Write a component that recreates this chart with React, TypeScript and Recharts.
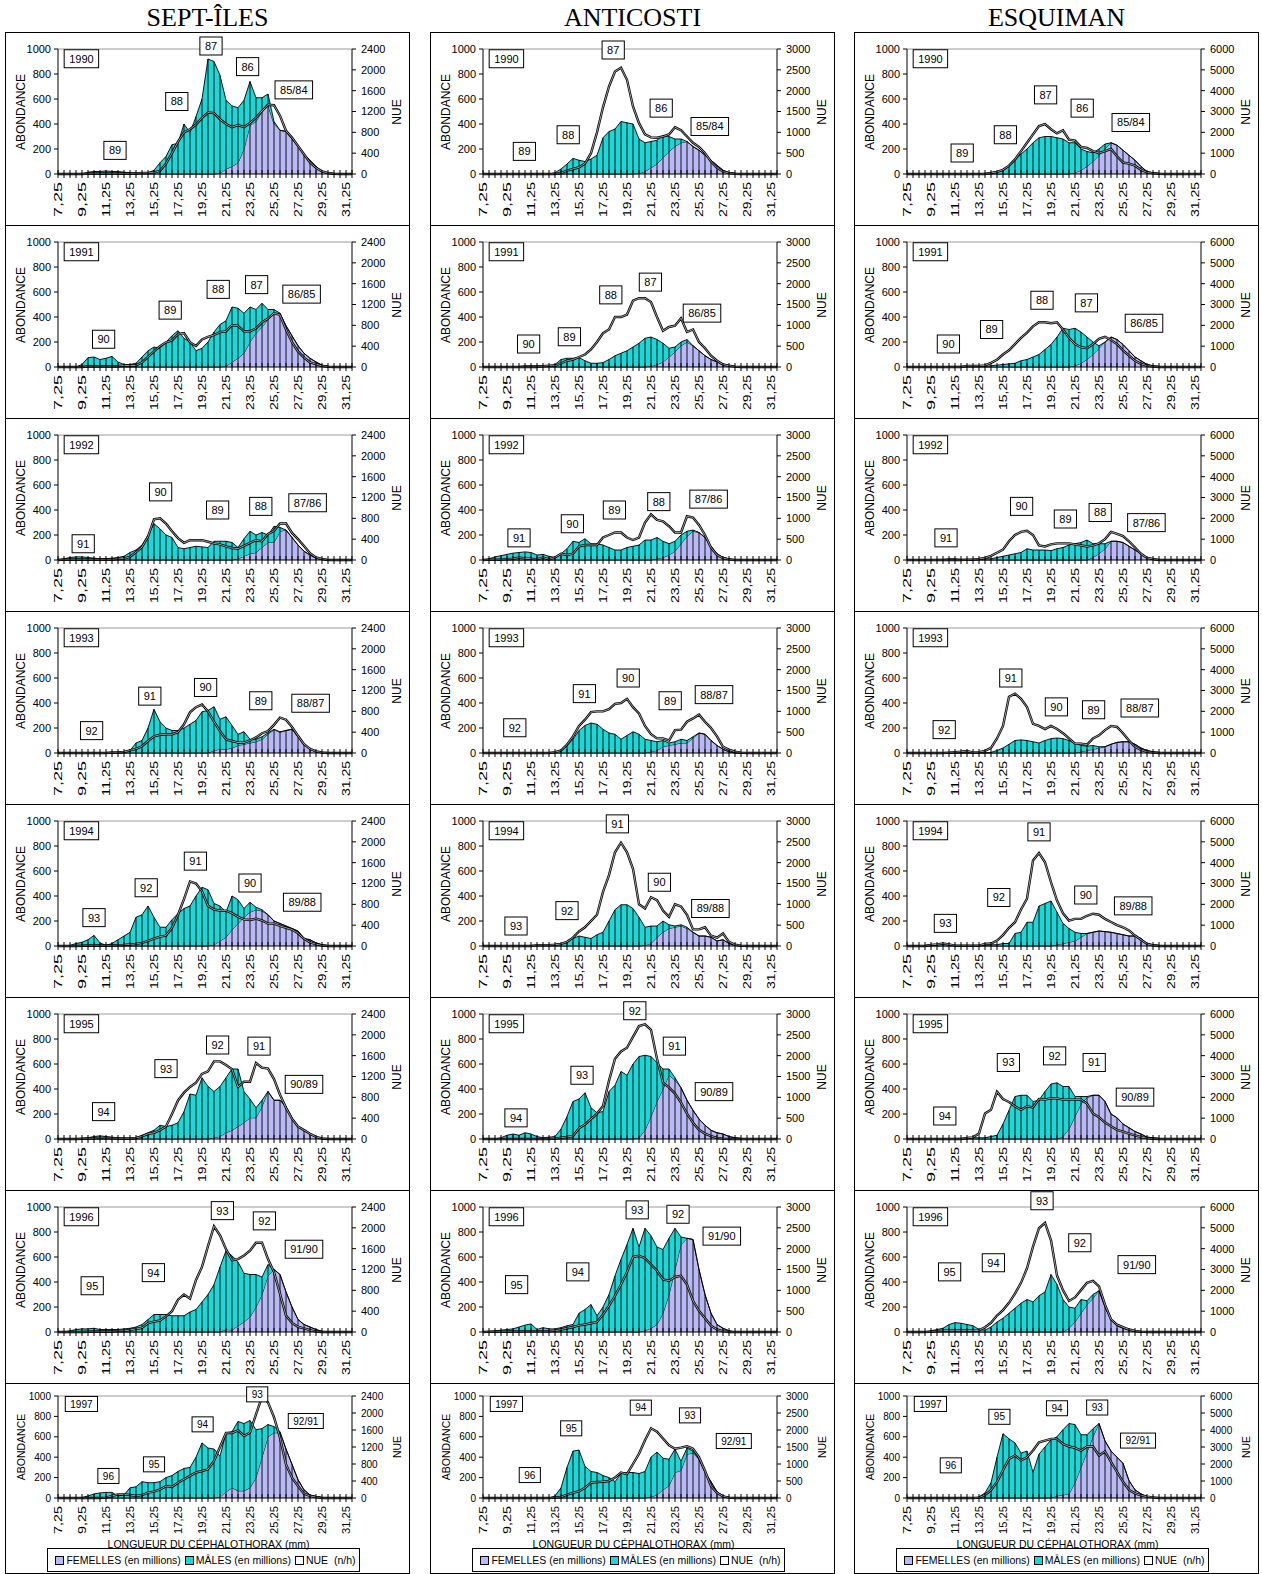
import React from "react";
import {
  ComposedChart,
  Area,
  Line,
  XAxis,
  YAxis,
  ReferenceLine,
  ReferenceDot,
  ErrorBar,
} from "recharts";

const FONT = "'Liberation Sans', Arial, Helvetica, sans-serif";
const SERIF = "'Liberation Serif', 'Times New Roman', serif";
const PURPLE = "#b9b9f5";
const CYAN = "#1ed6d6";

// carapace length classes (mm)
const lengths = [
  "7,25", "7,75", "8,25", "8,75", "9,25", "9,75", "10,25", "10,75", "11,25", "11,75",
  "12,25", "12,75", "13,25", "13,75", "14,25", "14,75", "15,25", "15,75", "16,25", "16,75",
  "17,25", "17,75", "18,25", "18,75", "19,25", "19,75", "20,25", "20,75", "21,25", "21,75",
  "22,25", "22,75", "23,25", "23,75", "24,25", "24,75", "25,25", "25,75", "26,25", "26,75",
  "27,25", "27,75", "28,25", "28,75", "29,25", "29,75", "30,25", "30,75", "31,25", "31,75",
];
const tickLabels = ["7,25", "9,25", "11,25", "13,25", "15,25", "17,25", "19,25", "21,25", "23,25", "25,25", "27,25", "29,25", "31,25"];
const abondTicks = [0, 200, 400, 600, 800, 1000];
const siNueTicks = [0, 400, 800, 1200, 1600, 2000, 2400];
const anNueTicks = [0, 500, 1000, 1500, 2000, 2500, 3000];
const esNueTicks = [0, 1000, 2000, 3000, 4000, 5000, 6000];

// ---------- SEPT-ILES ----------
const siF90 = [0,0,0,0,0,0,0,0,0,0, 0,0,0,0,0,0,0,0,0,0, 0,0,0,0,0,0,0,5,40,60, 90,200,390,420,500,550,400,350,340,280, 220,160,110,60,20,5,0,0,0,0];
const siM90 = [0,0,0,0,0,15,20,20,25,20, 20,15,10,5,5,10,30,90,140,235, 245,400,330,460,600,920,900,785,550,485, 440,390,350,190,110,90,20,0,0,0, 0,0,0,0,0,0,0,0,0,0];
const siN90 = [0,0,0,0,0,10,10,10,10,10, 10,10,10,10,20,20,30,60,200,400, 620,800,860,950,1080,1180,1170,1050,960,900, 940,900,980,1080,1210,1330,1320,1120,830,700, 540,380,220,120,50,20,5,0,0,0];

const siF91 = [0,0,0,0,0,0,0,0,0,0, 0,0,0,0,0,0,0,0,0,0, 0,0,0,0,0,0,0,0,5,40, 70,110,200,270,320,380,430,430,330,250, 170,110,70,40,15,5,0,0,0,0];
const siM91 = [0,0,0,0,20,75,80,60,70,85, 40,20,20,30,80,130,160,150,200,250, 290,230,200,130,150,200,280,340,365,440, 400,320,280,190,190,80,30,0,0,0, 0,0,0,0,0,0,0,0,0,0];
const siN91 = [0,0,0,0,0,15,15,15,15,15, 15,30,30,30,90,195,300,400,475,510, 630,650,475,405,530,580,615,670,685,805, 790,685,685,740,860,930,1035,1000,720,475, 300,180,90,55,20,5,0,0,0,0];

const siF92 = [0,0,0,0,0,0,0,0,0,0, 0,0,0,0,0,0,0,0,0,0, 0,0,0,0,0,0,0,0,0,0, 10,30,50,60,100,140,140,230,240,180, 120,70,40,15,5,0,0,0,0,0];
const siM92 = [0,10,20,25,25,20,15,10,10,15, 20,30,60,80,120,200,290,250,200,180, 100,90,100,110,105,100,150,150,150,140, 90,140,180,140,120,60,130,30,0,0, 0,0,0,0,0,0,0,0,0,0];
const siN92 = [0,10,10,10,10,10,10,10,10,10, 20,30,60,150,250,450,780,800,700,550, 420,330,380,380,380,350,320,300,260,230, 220,270,330,380,360,500,560,700,700,520, 400,270,130,50,20,0,0,0,0,0];

const siF93 = [0,0,0,0,0,0,0,0,0,0, 0,0,0,0,0,0,0,0,0,0, 0,0,0,0,0,0,20,30,30,40, 60,70,80,90,110,150,185,165,180,190, 130,70,30,10,3,0,0,0,0,0];
const siM93 = [0,0,0,0,0,0,0,0,0,0, 5,10,20,80,100,200,350,250,200,180, 180,200,230,260,330,340,350,240,260,180, 90,100,30,20,20,10,5,5,0,0, 0,0,0,0,0,0,0,0,0,0];
const siN93 = [0,0,0,0,0,0,0,0,0,10, 10,20,50,80,130,230,320,350,360,360, 400,550,780,880,930,800,600,420,260,230, 200,200,240,300,380,420,540,680,640,500, 330,170,80,30,10,0,0,0,0,0];

const siF94 = [0,0,0,0,0,0,0,0,0,0, 0,0,0,0,0,0,0,0,0,0, 0,0,0,0,0,0,10,40,70,130, 180,230,270,290,280,250,200,180,160,140, 120,60,50,25,10,3,0,0,0,0];
const siM94 = [0,0,5,20,30,50,85,25,5,20, 50,80,110,230,250,320,230,150,150,210, 260,300,320,400,470,450,330,280,200,270, 190,70,80,20,10,0,0,0,0,0, 0,0,0,0,0,0,0,0,0,0];
const siN94 = [0,0,0,0,5,10,10,10,10,10, 15,20,30,40,60,100,140,180,200,350, 600,900,1240,1200,1050,770,700,680,680,630, 560,510,500,525,490,430,430,385,350,315, 245,140,70,35,10,0,0,0,0,0];

const siF95 = [0,0,0,0,0,0,0,0,0,0, 0,0,0,0,0,0,0,0,0,0, 0,0,0,0,0,0,10,20,50,70, 100,130,170,170,260,380,310,310,260,170, 100,70,40,15,5,0,0,0,0,0];
const siM95 = [0,0,0,0,5,10,20,25,20,15, 10,5,5,10,30,50,70,110,100,110, 130,220,360,350,490,420,370,400,440,490, 460,250,150,80,50,0,0,0,0,0, 0,0,0,0,0,0,0,0,0,0];
const siN95 = [0,0,0,0,5,10,15,20,20,15, 10,10,10,20,50,100,120,170,240,480, 740,890,1000,1080,1250,1300,1490,1490,1420,1340, 1000,1100,1100,1460,1370,1350,1150,850,600,390, 240,170,100,40,10,0,0,0,0,0];

const siF96 = [0,0,0,0,0,0,0,0,0,0, 0,0,0,0,0,0,0,0,0,0, 0,0,0,0,0,0,0,0,20,15, 50,80,120,200,300,450,500,460,320,200, 100,60,40,20,5,0,0,0,0,0];
const siM96 = [0,0,10,20,25,25,30,20,20,20, 20,25,30,40,60,100,140,140,140,130, 130,130,160,180,240,300,380,520,630,595, 510,390,340,260,140,90,0,0,0,0, 0,0,0,0,0,0,0,0,0,0];
const siN96 = [0,0,0,0,0,5,10,10,10,10, 20,20,40,60,80,170,200,220,300,400, 620,720,640,1000,1250,1650,2030,1855,1590,1380, 1400,1470,1560,1715,1715,1400,1150,735,315,175, 100,70,35,10,0,0,0,0,0,0];

const siF97 = [0,0,0,0,0,0,0,0,0,0, 0,0,0,0,0,0,0,0,0,0, 0,0,0,0,0,0,0,10,60,100, 70,70,100,200,400,600,640,640,480,330, 180,80,30,15,5,0,0,0,0,0];
const siM97 = [0,0,0,0,5,20,40,50,55,55, 20,30,100,110,160,150,150,160,200,220, 260,290,300,400,540,490,480,400,580,550, 680,660,660,470,280,120,60,10,0,0, 0,0,0,0,0,0,0,0,0,0];
const siN97 = [0,0,0,0,0,0,0,0,10,50, 85,85,70,50,70,125,150,200,280,260, 360,440,520,600,635,675,870,1200,1530,1530, 1590,1460,1540,1970,2380,2250,1900,1420,790,480, 280,100,50,20,0,0,0,0,0,0];

// ---------- ANTICOSTI ----------
const anF90 = [0,0,0,0,0,0,0,0,0,0, 0,0,0,0,0,0,0,0,0,0, 0,0,0,0,0,0,5,20,50,80, 130,180,220,250,260,220,190,150,110,70, 30,10,5,0,0,0,0,0,0,0];
const anM90 = [0,0,0,0,0,0,0,0,0,0, 0,0,10,40,80,125,110,100,120,150, 290,340,360,420,410,400,275,230,210,190, 180,120,60,30,0,0,0,0,0,0, 0,0,0,0,0,0,0,0,0,0];
const anN90 = [0,0,0,0,0,0,0,0,0,0, 0,0,0,20,80,120,160,250,500,1000, 1600,2100,2460,2550,2260,1620,1220,950,880,870, 900,950,1120,1050,900,750,650,500,300,150, 60,20,5,0,0,0,0,0,0,0];

const anF91 = [0,0,0,0,0,0,0,0,0,0, 0,0,0,0,0,0,0,0,0,0, 0,0,0,0,0,0,0,0,5,20, 40,80,120,170,200,170,130,90,60,40, 20,10,5,0,0,0,0,0,0,0];
const anM91 = [0,0,0,0,0,0,5,10,10,10, 10,10,20,60,70,70,75,50,30,30, 35,60,90,110,130,160,190,230,235,200, 150,70,40,30,20,0,0,0,0,0, 0,0,0,0,0,0,0,0,0,0];
const anN91 = [0,0,0,0,0,0,0,0,0,0, 20,30,30,90,150,180,240,300,420,600, 810,900,1200,1200,1260,1590,1650,1650,1560,1200, 870,960,990,1170,840,900,600,450,270,150, 60,30,10,0,0,0,0,0,0,0];

const anF92 = [0,0,0,0,0,0,0,0,0,0, 0,0,0,0,0,0,0,0,0,0, 0,0,0,0,0,0,0,0,0,10, 20,40,70,130,190,230,220,180,110,50, 20,10,0,0,0,0,0,0,0,0];
const anM92 = [0,10,25,35,45,55,60,65,60,40, 45,30,20,50,90,150,140,170,130,130, 120,100,80,80,100,110,120,160,160,170, 130,90,80,70,40,10,0,0,0,0, 0,0,0,0,0,0,0,0,0,0];
const anN92 = [0,10,10,10,20,30,60,40,30,15, 60,15,60,150,120,150,330,360,360,360, 540,600,660,660,540,480,540,900,1095,960, 930,810,660,660,1050,1020,840,600,300,120, 45,15,0,0,0,0,0,0,0,0];

const anF93 = [0,0,0,0,0,0,0,0,0,0, 0,0,0,0,0,0,0,0,0,0, 0,0,0,0,0,0,0,0,10,20, 50,60,70,80,80,120,160,150,100,60, 30,10,0,0,0,0,0,0,0,0];
const anM93 = [0,0,0,0,0,0,0,0,0,0, 0,0,5,20,60,110,180,220,240,230, 190,160,150,110,140,170,150,110,90,70, 50,20,20,30,20,10,0,0,0,0, 0,0,0,0,0,0,0,0,0,0];
const anN93 = [0,0,0,0,0,0,0,0,0,0, 0,0,20,60,200,400,650,800,980,1000, 1000,1050,1180,1200,1300,1100,950,650,450,350, 350,300,550,560,750,830,920,750,600,400, 150,80,30,10,0,0,0,0,0,0];

const anF94 = [0,0,0,0,0,0,0,0,0,0, 0,0,0,0,0,0,0,0,0,0, 0,0,0,0,0,0,0,5,20,70, 110,140,150,160,140,110,80,80,70,40, 50,20,5,0,0,0,0,0,0,0];
const anM94 = [0,0,0,0,0,0,0,0,0,5, 5,5,10,15,30,60,80,70,60,90, 110,200,290,330,330,300,230,145,140,90, 90,30,10,10,10,0,0,0,0,0, 0,0,0,0,0,0,0,0,0,0];
const anN94 = [0,0,0,0,0,0,0,0,0,20, 20,20,30,50,100,200,350,450,600,750, 1300,1700,2250,2480,2250,1850,1000,900,1170,1100, 850,700,1000,950,750,400,400,450,250,200, 300,100,30,10,0,0,0,0,0,0];

const anF95 = [0,0,0,0,0,0,0,0,0,0, 0,0,0,0,0,0,0,0,0,0, 0,0,0,0,0,0,10,70,180,300, 400,510,470,410,310,230,160,110,70,50, 40,20,10,5,0,0,0,0,0,0];
const anM95 = [0,0,0,10,30,40,30,50,40,20, 10,15,20,80,180,300,320,370,250,210, 220,380,430,540,510,600,650,600,480,310, 160,50,20,0,0,0,0,0,0,0, 0,0,0,0,0,0,0,0,0,0];
const anN95 = [0,0,0,0,0,0,0,0,0,0, 0,0,10,30,50,70,260,350,480,610, 790,1400,1925,2100,2190,2450,2710,2750,2620,1925, 1350,1240,1090,875,610,390,220,130,70,25, 10,0,0,0,0,0,0,0,0,0];

const anF96 = [0,0,0,0,0,0,0,0,0,0, 0,0,0,0,0,0,0,0,0,0, 0,0,0,0,0,0,0,10,30,60, 150,300,500,700,750,740,500,300,150,60, 30,10,0,0,0,0,0,0,0,0];
const anM96 = [0,5,10,15,20,25,40,55,65,20, 35,25,25,35,50,60,150,180,220,130, 200,300,450,580,700,830,680,820,740,620, 510,450,330,60,0,0,0,0,0,0, 0,0,0,0,0,0,0,0,0,0];
const anN96 = [0,10,10,10,10,15,15,20,20,20, 20,20,30,60,90,120,160,180,210,240, 420,630,870,1140,1440,1800,1830,1770,1620,1470, 1260,1230,1320,1350,1140,750,510,330,150,60, 20,0,0,0,0,0,0,0,0,0];

const anF97 = [0,0,0,0,0,0,0,0,0,0, 0,0,0,0,0,0,0,0,0,0, 0,0,0,0,0,0,0,0,10,30, 80,120,250,270,430,440,380,250,160,60, 20,5,0,0,0,0,0,0,0,0];
const anM97 = [0,0,0,0,0,0,0,0,0,0, 0,0,20,100,300,460,470,310,260,250, 220,200,160,240,250,250,240,260,390,420, 310,260,230,90,60,20,0,0,0,0, 0,0,0,0,0,0,0,0,0,0];
const anN97 = [0,0,0,0,0,0,0,0,0,0, 0,0,10,30,100,150,200,300,450,470, 480,500,600,750,700,1000,1300,1700,2050,1950, 1750,1550,1450,1480,1520,1450,1200,800,350,150, 50,10,0,0,0,0,0,0,0,0];

// ---------- ESQUIMAN ----------
const esF90 = [0,0,0,0,0,0,0,0,0,0, 0,0,0,0,0,0,0,0,0,0, 0,0,0,0,0,0,0,0,10,30, 60,100,150,200,250,230,190,150,110,60, 20,10,5,0,0,0,0,0,0,0];
const esM90 = [0,0,0,0,0,0,0,0,0,0, 0,0,0,5,10,20,30,60,110,160, 200,250,290,300,300,290,280,250,240,170, 120,70,50,40,0,0,0,0,0,0, 0,0,0,0,0,0,0,0,0,0];
const esN90 = [0,0,0,0,0,0,0,0,0,0, 0,0,0,0,50,100,200,400,700,1100, 1500,1900,2300,2400,2150,1950,2100,1650,1600,1300, 1250,1100,1000,1100,1200,850,550,500,400,200, 80,30,10,0,0,0,0,0,0,0];

const esF91 = [0,0,0,0,0,0,0,0,0,0, 0,0,0,0,0,0,0,0,0,0, 0,0,0,0,0,0,0,0,10,30, 60,100,150,200,240,220,180,130,80,50, 20,10,5,0,0,0,0,0,0,0];
const esM91 = [0,0,0,0,0,0,0,5,5,5, 5,5,5,5,10,15,20,25,30,50, 60,80,100,140,180,240,310,300,300,250, 180,100,20,0,0,0,0,0,0,0, 0,0,0,0,0,0,0,0,0,0];
const esN91 = [0,0,0,0,0,0,0,0,0,0, 50,50,50,80,200,350,600,800,1100,1400, 1650,1950,2150,2150,2100,2150,1800,1400,1100,950, 900,1100,1350,1450,1300,1100,800,550,300,150, 60,20,0,0,0,0,0,0,0,0];

const esF92 = [0,0,0,0,0,0,0,0,0,0, 0,0,0,0,0,0,0,0,0,0, 0,0,0,0,0,0,0,0,0,0, 0,20,50,90,150,150,140,110,80,50, 20,5,0,0,0,0,0,0,0,0];
const esM92 = [0,0,0,0,0,5,5,10,10,5, 5,5,5,10,10,20,30,40,50,60, 90,80,80,80,75,90,100,120,130,140, 160,110,80,40,0,0,0,0,0,0, 0,0,0,0,0,0,0,0,0,0];
const esN92 = [0,0,0,0,0,0,0,0,0,0, 20,20,50,100,200,350,500,900,1200,1350, 1400,1200,700,650,750,800,800,800,750,700, 650,700,800,1000,1350,1250,1150,900,600,300, 100,50,0,0,0,0,0,0,0,0];

const esF93 = [0,0,0,0,0,0,0,0,0,0, 0,0,0,0,0,0,0,0,0,0, 0,0,0,0,0,0,0,0,0,10, 20,30,40,50,70,85,90,90,70,40, 20,10,5,0,0,0,0,0,0,0];
const esM93 = [0,0,0,0,0,0,0,0,0,0, 0,0,0,0,5,20,40,70,100,105, 100,90,80,100,115,120,115,100,80,50, 35,30,10,0,0,0,0,0,0,0, 0,0,0,0,0,0,0,0,0,0];
const esN93 = [0,0,0,0,0,0,0,20,40,60, 100,20,40,100,250,700,1300,2700,2850,2600, 2200,1400,1300,1150,1300,1150,950,700,450,450, 400,700,850,1100,1300,1250,950,600,300,150, 60,20,0,0,0,0,0,0,0,0];

const esF94 = [0,0,0,0,0,0,0,0,0,0, 0,0,0,0,0,0,0,0,0,0, 0,0,0,0,0,10,20,30,40,70, 100,110,120,115,110,100,90,80,80,60, 20,10,5,0,0,0,0,0,0,0];
const esM94 = [0,0,0,5,10,10,15,10,5,5, 5,5,5,5,10,10,20,20,100,110, 190,190,320,340,360,260,160,110,70,30, 0,0,0,0,0,0,0,0,0,0, 0,0,0,0,0,0,0,0,0,0];
const esN94 = [0,0,0,0,50,80,120,80,20,20, 20,20,20,100,120,260,525,875,1140,1750, 2270,4100,4460,4020,3060,2180,1570,1220,1300,1300, 1450,1550,1500,1300,1150,1000,900,750,500,300, 100,30,0,0,0,0,0,0,0,0];

const esF95 = [0,0,0,0,0,0,0,0,0,0, 0,0,0,0,0,0,0,0,0,0, 0,0,0,0,0,0,20,80,180,280, 330,350,350,300,200,170,120,90,60,40, 15,10,5,0,0,0,0,0,0,0];
const esM95 = [0,0,0,0,0,0,0,0,5,5, 5,10,10,10,20,30,120,230,340,350, 350,300,310,380,440,450,400,340,160,60, 10,0,0,0,0,0,0,0,0,0, 0,0,0,0,0,0,0,0,0,0];
const esN95 = [0,0,0,0,0,0,0,0,0,0, 50,80,260,1220,1400,2270,1920,1780,1570,1400, 1570,1520,1920,1890,1960,1950,1890,1890,1890,1890, 1700,1220,1050,790,610,440,350,260,175,90, 40,10,0,0,0,0,0,0,0,0];

const esF96 = [0,0,0,0,0,0,0,0,0,0, 0,0,0,0,0,0,0,0,0,0, 0,0,0,0,0,0,0,30,80,150, 220,270,330,200,100,50,30,15,5,0, 0,0,0,0,0,0,0,0,0,0];
const esM96 = [0,0,0,0,10,20,30,60,75,70, 60,50,20,15,40,80,110,150,190,230, 260,240,290,320,460,380,260,170,110,110, 30,30,0,0,0,0,0,0,0,0, 0,0,0,0,0,0,0,0,0,0];
const esN96 = [0,0,0,0,20,40,60,80,80,80, 80,60,80,230,440,790,1050,1400,1840,2360, 3060,4100,4980,5240,4400,2710,2010,1490,1660,2010, 2360,2450,2190,1310,610,350,230,120,50,20, 0,0,0,0,0,0,0,0,0,0];

const esF97 = [0,0,0,0,0,0,0,0,0,0, 0,0,0,0,0,0,0,0,0,0, 0,0,0,0,0,20,30,40,150,300, 450,600,730,560,460,400,340,170,80,40, 15,5,0,0,0,0,0,0,0,0];
const esM97 = [0,0,0,0,0,0,0,0,0,0, 0,0,10,50,150,400,630,580,540,440, 460,250,430,500,570,580,640,690,570,320, 170,80,0,0,0,0,0,0,0,0, 0,0,0,0,0,0,0,0,0,0];
const esN97 = [0,0,0,0,0,0,0,0,0,0, 0,0,20,175,465,950,1630,2300,2500,2210, 2400,2790,3280,3380,3480,3480,3180,3030,2950,2790, 3030,3030,2500,2740,2120,1530,950,485,270,155, 80,40,0,0,0,0,0,0,0,0];

// cohort labels: [text, class index, abundance]
type Note = [string, number, number];
type YearPanel = { year: string; fem: number[]; male: number[]; nue: number[]; notes: Note[] };
type Site = { name: string; nueTicks: number[]; panels: YearPanel[] };

const sites: Site[] = [
  {
    name: "SEPT-ÎLES",
    nueTicks: siNueTicks,
    panels: [
      { year: "1990", fem: siF90, male: siM90, nue: siN90, notes: [["87", 25.5, 1024], ["88", 19.8, 580], ["89", 9.5, 189], ["86", 31.6, 859], ["85/84", 39.3, 673]] },
      { year: "1991", fem: siF91, male: siM91, nue: siN91, notes: [["90", 7.6, 222], ["89", 18.7, 455], ["88", 26.7, 621], ["87", 33.1, 659], ["86/85", 40.6, 583]] },
      { year: "1992", fem: siF92, male: siM92, nue: siN92, notes: [["91", 4.2, 130], ["90", 17.1, 545], ["89", 26.6, 400], ["88", 33.8, 429], ["87/86", 41.6, 458]] },
      { year: "1993", fem: siF93, male: siM93, nue: siN93, notes: [["92", 5.6, 179], ["91", 15.3, 455], ["90", 24.6, 524], ["89", 33.8, 418], ["88/87", 42.1, 398]] },
      { year: "1994", fem: siF94, male: siM94, nue: siN94, notes: [["93", 6.0, 227], ["92", 14.7, 466], ["91", 22.9, 679], ["90", 32.0, 504], ["89/88", 40.7, 350]] },
      { year: "1995", fem: siF95, male: siM95, nue: siN95, notes: [["94", 7.6, 219], ["93", 18.0, 563], ["92", 26.6, 752], ["91", 33.5, 743], ["90/89", 41.0, 437]] },
      { year: "1996", fem: siF96, male: siM96, nue: siN96, notes: [["95", 5.7, 370], ["94", 15.9, 475], ["93", 27.4, 971], ["92", 34.4, 889], ["91/90", 41.0, 662]] },
      { year: "1997", fem: siF97, male: siM97, nue: siN97, notes: [["96", 8.4, 216], ["95", 16.0, 330], ["94", 24.1, 722], ["93", 33.2, 1016], ["92/91", 41.3, 755]] },
    ],
  },
  {
    name: "ANTICOSTI",
    nueTicks: anNueTicks,
    panels: [
      { year: "1990", fem: anF90, male: anM90, nue: anN90, notes: [["87", 21.7, 992], ["88", 14.2, 314], ["89", 6.9, 181], ["86", 29.7, 527], ["85/84", 37.8, 380]] },
      { year: "1991", fem: anF91, male: anM91, nue: anN91, notes: [["90", 7.6, 184], ["89", 14.4, 242], ["88", 21.3, 577], ["87", 27.9, 679], ["86/85", 36.5, 431]] },
      { year: "1992", fem: anF92, male: anM92, nue: anN92, notes: [["91", 6.0, 177], ["90", 14.9, 290], ["89", 21.9, 400], ["88", 29.3, 467], ["87/86", 37.6, 487]] },
      { year: "1993", fem: anF93, male: anM93, nue: anN93, notes: [["92", 5.3, 202], ["91", 16.9, 475], ["90", 24.2, 600], ["89", 31.2, 418], ["88/87", 38.5, 467]] },
      { year: "1994", fem: anF94, male: anM94, nue: anN94, notes: [["93", 5.5, 160], ["92", 14.0, 283], ["91", 22.4, 977], ["90", 29.4, 510], ["89/88", 37.9, 300]] },
      { year: "1995", fem: anF95, male: anM95, nue: anN95, notes: [["94", 5.5, 169], ["93", 16.5, 510], ["92", 25.3, 1026], ["91", 31.9, 743], ["90/89", 38.5, 379]] },
      { year: "1996", fem: anF96, male: anM96, nue: anN96, notes: [["95", 5.6, 379], ["94", 15.8, 481], ["93", 25.7, 977], ["92", 32.5, 942], ["91/90", 39.8, 767]] },
      { year: "1997", fem: anF97, male: anM97, nue: anN97, notes: [["96", 7.8, 225], ["95", 14.7, 683], ["94", 26.3, 886], ["93", 34.5, 810], ["92/91", 41.8, 559]] },
    ],
  },
  {
    name: "ESQUIMAN",
    nueTicks: esNueTicks,
    panels: [
      { year: "1990", fem: esF90, male: esM90, nue: esN90, notes: [["87", 23.1, 633], ["86", 29.2, 527], ["88", 16.4, 314], ["89", 9.2, 168], ["85/84", 37.3, 412]] },
      { year: "1991", fem: esF91, male: esM91, nue: esN91, notes: [["90", 6.9, 184], ["89", 14.1, 300], ["88", 22.5, 534], ["87", 29.9, 513], ["86/85", 39.5, 350]] },
      { year: "1992", fem: esF92, male: esM92, nue: esN92, notes: [["91", 6.5, 177], ["90", 19.1, 429], ["89", 26.4, 328], ["88", 32.2, 380], ["87/86", 39.9, 299]] },
      { year: "1993", fem: esF93, male: esM93, nue: esN93, notes: [["92", 6.2, 187], ["91", 17.3, 600], ["90", 24.9, 369], ["89", 31.1, 346], ["88/87", 38.8, 360]] },
      { year: "1994", fem: esF94, male: esM94, nue: esN94, notes: [["93", 6.4, 181], ["92", 15.3, 388], ["91", 22.0, 913], ["90", 29.8, 408], ["89/88", 37.7, 321]] },
      { year: "1995", fem: esF95, male: esM95, nue: esN95, notes: [["94", 6.3, 184], ["93", 16.9, 612], ["92", 24.6, 665], ["91", 31.2, 612], ["90/89", 38.0, 335]] },
      { year: "1996", fem: esF96, male: esM96, nue: esN96, notes: [["95", 7.1, 481], ["94", 14.4, 554], ["93", 22.5, 1050], ["92", 28.8, 714], ["91/90", 38.3, 539]] },
      { year: "1997", fem: esF97, male: esM97, nue: esN97, notes: [["96", 7.3, 320], ["95", 15.4, 796], ["94", 25.0, 880], ["93", 31.7, 887], ["92/91", 38.5, 563]] },
    ],
  },
];

const COL_LEFT = [5, 430, 854];
const COL_W = 405;
const CHART_W = 403;
const ROW_H = 193;

function XTick(props: any) {
  const { x, y, payload, fs, len } = props;
  const show = tickLabels.includes(payload.value);
  return (
    <g>
      <line x1={x} x2={x} y1={y - 4} y2={y + 4} stroke="#000" strokeWidth={1} />
      {show && (
        <text
          transform={`translate(${x + fs * 0.36},${y + 8}) rotate(-90)`}
          textAnchor="end"
          fontSize={fs}
          fontFamily={FONT}
          fill="#000"
          textLength={len}
          lengthAdjust="spacingAndGlyphs"
        >
          {payload.value}
        </text>
      )}
    </g>
  );
}

function NoteBox({ cx, cy, text, fs, bh }: any) {
  const digits = text.replace(/\//g, "").length;
  const slashes = text.length - digits;
  const w = digits * fs * 0.556 + slashes * fs * 0.28 + 10;
  return (
    <g>
      <rect x={cx - w / 2} y={cy - bh / 2} width={w} height={bh} fill="#fff" stroke="#000" strokeWidth={1} />
      <text x={cx} y={cy} dy="0.36em" textAnchor="middle" fontSize={fs} fontFamily={FONT} fill="#000">
        {text}
      </text>
    </g>
  );
}

function Panel({ site, p, last }: { site: Site; p: YearPanel; last: boolean }) {
  const rows = lengths.map((l, i) => {
    const tot = p.fem[i] + p.male[i];
    return { l, i, f: p.fem[i], m: p.male[i], t: tot, e: [tot, 0], n: p.nue[i] };
  });
  const fs = last ? 10 : 11;
  const bh = last ? 15 : 18;
  const nueMax = site.nueTicks[site.nueTicks.length - 1];
  const notes: Note[] = [[p.year, 3.9, 922], ...p.notes];
  const tickStyle = { fontSize: fs, fill: "#000", fontFamily: FONT };
  return (
    <ComposedChart
      width={CHART_W}
      height={last ? 160 : ROW_H}
      data={rows}
      margin={{ top: last ? 12 : 16, right: 6, bottom: 6, left: 6 }}
    >
      <XAxis
        xAxisId="c"
        dataKey="l"
        interval={0}
        tickSize={0}
        tickMargin={0}
        tickLine={false}
        axisLine={{ stroke: "#000" }}
        height={last ? 40 : 46}
        tick={<XTick fs={fs} len={last ? 28 : 35} />}
      />
      <XAxis xAxisId="n" type="number" dataKey="i" domain={[0, 49]} hide />
      <YAxis
        yAxisId="l"
        domain={[0, 1000]}
        ticks={abondTicks}
        interval={0}
        width={46}
        tickSize={4}
        tickMargin={3}
        tick={tickStyle}
        axisLine={{ stroke: "#000" }}
        tickLine={{ stroke: "#000" }}
      />
      <YAxis
        yAxisId="r"
        orientation="right"
        domain={[0, nueMax]}
        ticks={site.nueTicks}
        interval={0}
        width={51}
        tickSize={4}
        tickMargin={5}
        tick={tickStyle}
        axisLine={{ stroke: "#000" }}
        tickLine={{ stroke: "#000" }}
      />
      <ReferenceLine xAxisId="c" yAxisId="l" y={1000} stroke="#9a9a9a" strokeWidth={1} />
      <Area xAxisId="c" yAxisId="l" type="linear" dataKey="f" stackId="s" fill={PURPLE} fillOpacity={1} stroke="#000" strokeWidth={0.9} isAnimationActive={false} />
      <Area xAxisId="c" yAxisId="l" type="linear" dataKey="m" stackId="s" fill={CYAN} fillOpacity={1} stroke="#000" strokeWidth={0.9} isAnimationActive={false} />
      <Line xAxisId="c" yAxisId="l" type="linear" dataKey="t" stroke="none" dot={false} activeDot={false} isAnimationActive={false}>
        <ErrorBar dataKey="e" width={0} stroke="#000" strokeWidth={0.9} direction="y" />
      </Line>
      <Line xAxisId="c" yAxisId="r" type="linear" dataKey="n" stroke="#000" strokeWidth={2.4} dot={false} activeDot={false} isAnimationActive={false} />
      <Line xAxisId="c" yAxisId="r" type="linear" dataKey="n" stroke="#fff" strokeWidth={0.6} dot={false} activeDot={false} isAnimationActive={false} />
      {notes.map((n, k) => (
        <ReferenceDot
          key={k}
          xAxisId="n"
          yAxisId="l"
          x={n[1]}
          y={n[2]}
          ifOverflow="visible"
          shape={(s: any) => <NoteBox cx={s.cx} cy={s.cy} text={n[0]} fs={fs} bh={bh} />}
        />
      ))}
    </ComposedChart>
  );
}

function Swatch({ color }: { color: string }) {
  return (
    <span
      style={{
        display: "inline-block",
        width: 7,
        height: 7,
        background: color,
        border: "1px solid #000",
        marginRight: 2,
        marginLeft: 4,
      }}
    />
  );
}

function RotLabel({ x, y, text, fs }: { x: number; y: number; text: string; fs: number }) {
  return (
    <div
      style={{
        position: "absolute",
        left: x,
        top: y,
        transform: "translate(-50%, -50%) rotate(-90deg)",
        fontFamily: FONT,
        fontSize: fs,
        whiteSpace: "nowrap",
        lineHeight: 1,
      }}
    >
      {text}
    </div>
  );
}

export default function App() {
  return (
    <div style={{ position: "absolute", left: 0, top: 0, width: 1262, height: 1574, background: "#fff" }}>
      {sites.map((s, ci) => (
        <React.Fragment key={s.name}>
          <div
            style={{
              position: "absolute",
              left: COL_LEFT[ci],
              top: 3,
              width: COL_W,
              textAlign: "center",
              fontFamily: SERIF,
              fontSize: 26,
              lineHeight: "normal",
            }}
          >
            {s.name}
          </div>
          <div
            style={{
              position: "absolute",
              left: COL_LEFT[ci],
              top: 32,
              width: COL_W,
              height: 1542,
              border: "1px solid #000",
              boxSizing: "border-box",
            }}
          >
            {s.panels.map((p, ri) => {
              const last = ri === s.panels.length - 1;
              const midY = last ? 12 + 51 : 16 + 62.5;
              return (
                <div key={p.year} style={{ position: "absolute", left: 0, top: ri * ROW_H, width: CHART_W, height: last ? 190 : ROW_H }}>
                  {ri > 0 && (
                    <div style={{ position: "absolute", left: 0, top: -1, width: CHART_W, height: 0, borderTop: "1px solid #000" }} />
                  )}
                  <Panel site={s} p={p} last={last} />
                  <RotLabel x={15} y={midY} text="ABONDANCE" fs={last ? 10.5 : 12} />
                  <RotLabel x={391} y={midY} text="NUE" fs={last ? 10.5 : 12} />
                  {last && (
                    <>
                      <div
                        style={{
                          position: "absolute",
                          left: 0,
                          width: CHART_W,
                          top: 153,
                          textAlign: "center",
                          fontFamily: FONT,
                          fontSize: 10.5,
                          lineHeight: "14px",
                          paddingLeft: 2,
                          boxSizing: "border-box",
                        }}
                      >
                        LONGUEUR DU CÉPHALOTHORAX (mm)
                      </div>
                      <div
                        style={{
                          position: "absolute",
                          left: 41,
                          top: 164,
                          width: 313,
                          height: 24,
                          border: "1px solid #000",
                          boxSizing: "border-box",
                          display: "flex",
                          alignItems: "center",
                          justifyContent: "center",
                          fontFamily: FONT,
                          fontSize: 10.5,
                          whiteSpace: "nowrap",
                        }}
                      >
                        <Swatch color={PURPLE} />
                        FEMELLES (en millions)
                        <Swatch color={CYAN} />
                        MÂLES (en millions)
                        <Swatch color="#fff" />
                        NUE&nbsp;&nbsp;(n/h)
                      </div>
                    </>
                  )}
                </div>
              );
            })}
          </div>
        </React.Fragment>
      ))}
    </div>
  );
}
